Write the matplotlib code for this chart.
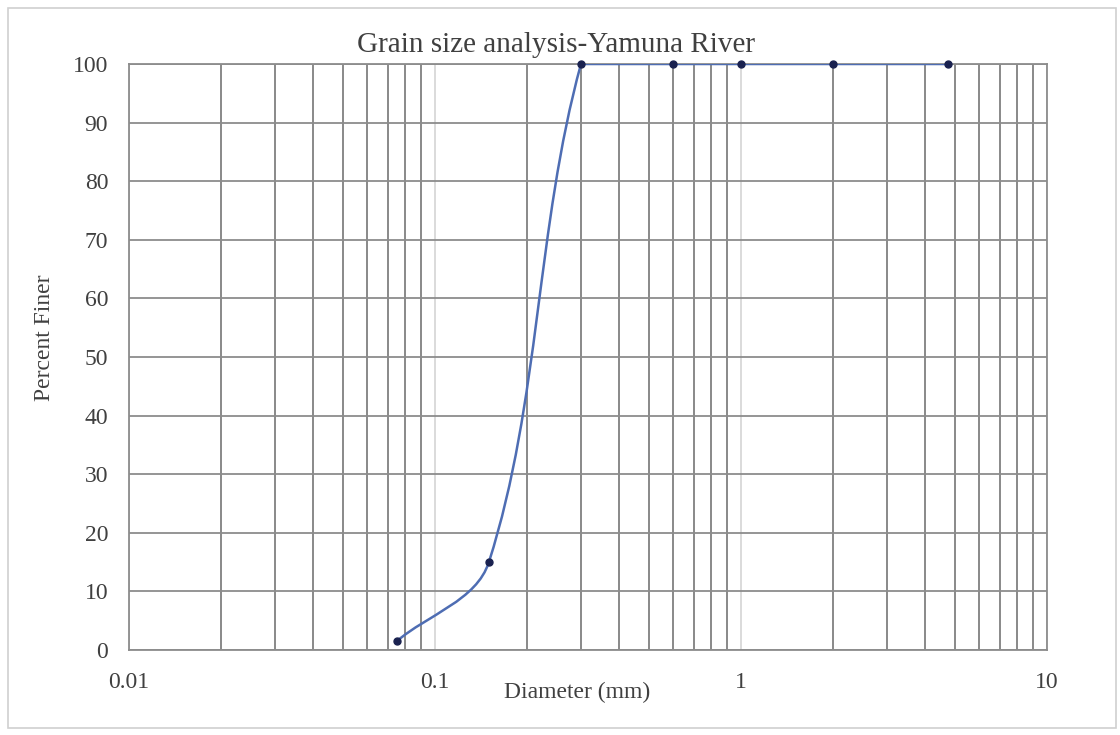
import numpy as np
import matplotlib.pyplot as plt
from matplotlib.path import Path
from matplotlib.patches import PathPatch, Rectangle
from matplotlib.ticker import LogLocator, NullFormatter

plt.rcParams['font.family'] = ['Liberation Serif', 'DejaVu Serif']

# sieve data
diameter = [0.075, 0.15, 0.3, 0.6, 1.0, 2.0, 4.75]
percent_finer = [1.5, 15, 100, 100, 100, 100, 100]

x_ticks = [0.01, 0.1, 1, 10]
x_tick_labels = ['0.01', '0.1', '1', '10']
y_ticks = list(range(0, 101, 10))


def smooth_path(ax, xs, ys):
    # bezier through the points, worked out in screen space like a spreadsheet "smoothed line"
    pts = ax.transData.transform(np.column_stack([xs, ys]))
    n = len(pts)

    def unit(v):
        return v / np.hypot(*v)

    verts = [pts[0]]
    codes = [Path.MOVETO]
    for i in range(n - 1):
        p0, p1 = pts[i], pts[i + 1]
        chord = p1 - p0
        L = np.hypot(*chord)
        if abs(chord[1]) < 1e-6:
            c1, c2 = p0 + chord / 3, p1 - chord / 3
        else:
            t0 = unit(chord) if i == 0 else unit(pts[i + 1] - pts[i - 1])
            if i + 1 == n - 1:
                t1 = unit(chord)
            elif abs(pts[i + 2][1] - p1[1]) < 1e-6:
                # next run is flat: ease into it
                t1 = unit(unit(chord) + unit(pts[i + 2] - pts[i]))
            else:
                t1 = unit(pts[i + 2] - pts[i])
            c1, c2 = p0 + t0 * L / 3, p1 - t1 * L / 3
        verts += [c1, c2, p1]
        codes += [Path.CURVE4] * 3
    data_verts = ax.transData.inverted().transform(np.array(verts))
    return Path(data_verts, codes)


fig = plt.figure(figsize=(11.2, 7.35), dpi=100)
W, H = 1120, 735
fig.patches.append(Rectangle((8 / W, 1 - 728 / H), 1108 / W, 720 / H, transform=fig.transFigure,
                             facecolor='none', edgecolor='#d0d0d0', lw=1.2, zorder=-10))

ax = fig.add_axes([129 / W, 1 - 650 / H, (1047 - 129) / W, (650 - 64) / H])
ax.set_xscale('log')
ax.set_xlim(0.01, 10)
ax.set_ylim(0, 100)

ax.set_xticks(x_ticks, x_tick_labels)
ax.xaxis.set_minor_locator(LogLocator(base=10, subs=np.arange(2, 10)))
ax.xaxis.set_minor_formatter(NullFormatter())
ax.set_yticks(y_ticks)

ax.grid(which='major', axis='x', color='#d8d8d8', lw=1.3)
ax.grid(which='minor', axis='x', color='#808080', lw=1.3)
ax.grid(which='major', axis='y', color='#8c8c8c', lw=1.3)
ax.set_axisbelow(True)

for s in ax.spines.values():
    s.set_color('#8c8c8c')
    s.set_linewidth(1.3)

ax.tick_params(which='both', length=0, labelsize=17, labelcolor='#404040')
ax.tick_params(axis='y', pad=15)
ax.tick_params(axis='x', pad=16)

ax.add_patch(PathPatch(smooth_path(ax, diameter, percent_finer), facecolor='none',
                       edgecolor='#4e6db3', lw=1.8, zorder=3))
ax.plot(diameter, percent_finer, 'o', color='#1a2250', ms=5, zorder=4, clip_on=False)

fig.text(556 / W, 1 - 45 / H, 'Grain size analysis-Yamuna River', ha='center', va='center',
         fontsize=21, color='#404040')
fig.text(577 / W, 1 - 692 / H, 'Diameter (mm)', ha='center', va='center', fontsize=17, color='#404040')
fig.text(45 / W, 1 - 338 / H, 'Percent Finer', ha='center', va='center', rotation=90,
         fontsize=17, color='#404040')

fig.savefig('out.png', dpi=100)
